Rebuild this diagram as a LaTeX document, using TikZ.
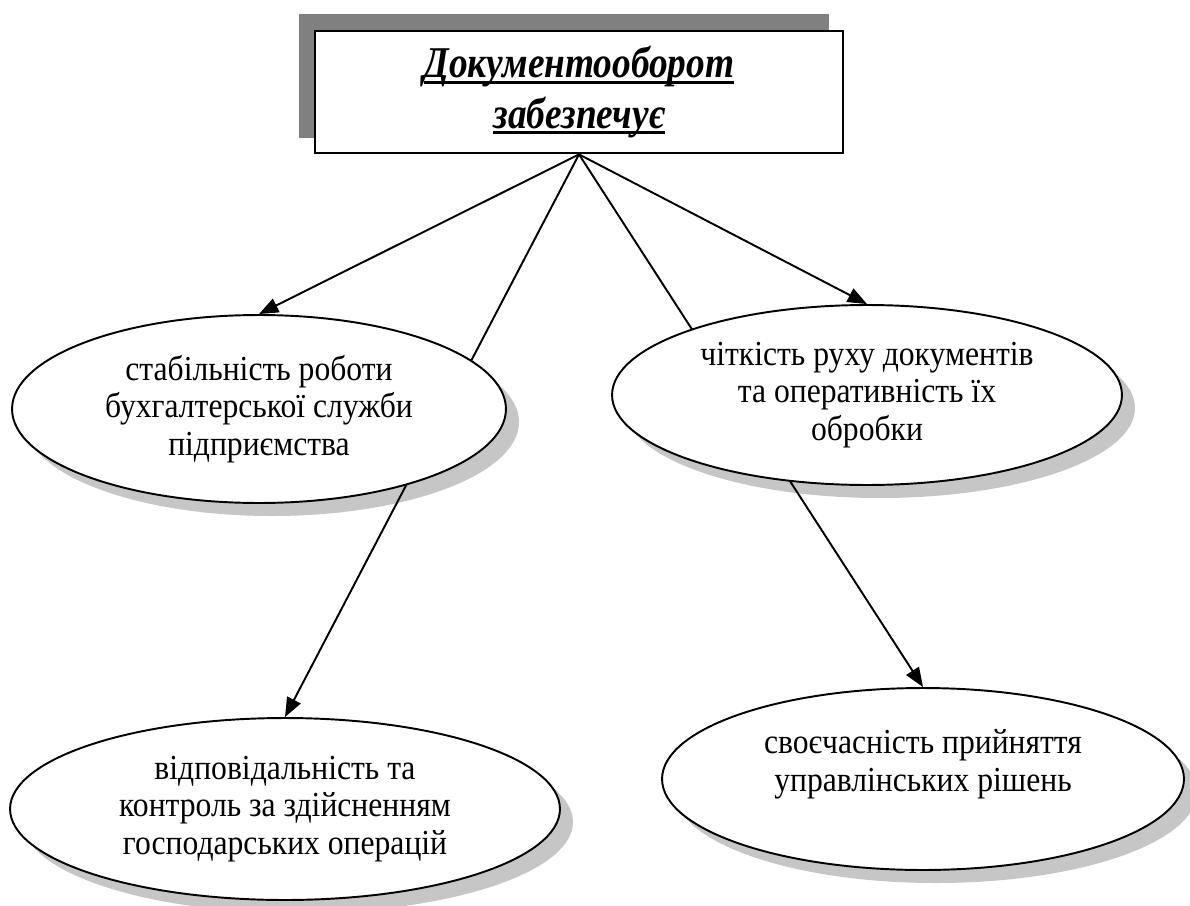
\documentclass[tikz,border=0pt]{standalone}
\usepackage{fontspec}
\setmainfont[FakeStretch=0.9]{Liberation Serif}
\newfontfamily\titlefont[FakeStretch=0.85]{Liberation Serif}
\usetikzlibrary{arrows.meta,shapes.geometric}
\pgfdeclarelayer{shade}
\pgfdeclarelayer{links}
\pgfsetlayers{shade,links,main}
\newcommand\thickul[1]{\setbox0\hbox{#1}\rlap{\rule[-3.5pt]{\wd0}{1.7pt}}\box0}
\tikzset{
 oval/.style={ellipse,draw,line width=1.1pt,fill=white,inner sep=0pt,align=center,font=\fontsize{20}{21.5}\selectfont},
 ovalshade/.style={fill=gray!45},
 link/.style={->,line width=1.1pt},
}
\begin{document}
\begin{tikzpicture}[x=0.02cm,y=-0.02cm,>={Triangle[length=11pt,width=8.5pt]}]
 \useasboundingbox (0,0) rectangle (1190,906);
 \node[draw,line width=1.6pt,fill=white,minimum width=10.56cm,minimum height=2.44cm,align=center,
 font=\titlefont\fontsize{25}{28.5}\selectfont\bfseries\itshape] (doc) at (579,92)
 {\thickul{Документооборот}\\\thickul{забезпечує}};
 \node[oval,minimum width=9.88cm,minimum height=3.76cm] (stab) at (259,409)
 {стабільність роботи\\бухгалтерської служби\\підприємства};
 \node[oval,minimum width=10.2cm,minimum height=3.6cm] (flow) at (867,395)
 {чіткість руху документів\\та оперативність їх\\обробки};
 \node[oval,minimum width=11cm,minimum height=3.64cm] (resp) at (285,809)
 {відповідальність та\\контроль за здійсненням\\господарських операцій};
 \node[oval,minimum width=10.44cm,minimum height=3.64cm] (time) at (923,779)
 {своєчасність прийняття\\управлінських рішень\\\mbox{}};
 \begin{pgfonlayer}{shade}
 \fill[gray] ([shift={(-15,-16)}]doc.south west) rectangle ([shift={(-15,-16)}]doc.north east);
 \fill[ovalshade] ([shift={(13,13)}]stab.center) ellipse [x radius=247,y radius=94];
 \fill[ovalshade] ([shift={(13,13)}]flow.center) ellipse [x radius=255,y radius=90];
 \fill[ovalshade] ([shift={(13,13)}]resp.center) ellipse [x radius=275,y radius=91];
 \fill[ovalshade] ([shift={(13,13)}]time.center) ellipse [x radius=261,y radius=91];
 \end{pgfonlayer}
 \begin{pgfonlayer}{links}
 \draw[link] (doc.south) -- (stab.north);
 \draw[link] (doc.south) -- (flow.north);
 \draw[link] (doc.south) -- (resp.north);
 \draw[link] (doc.south) -- (time.north);
 \end{pgfonlayer}
\end{tikzpicture}
\end{document}
